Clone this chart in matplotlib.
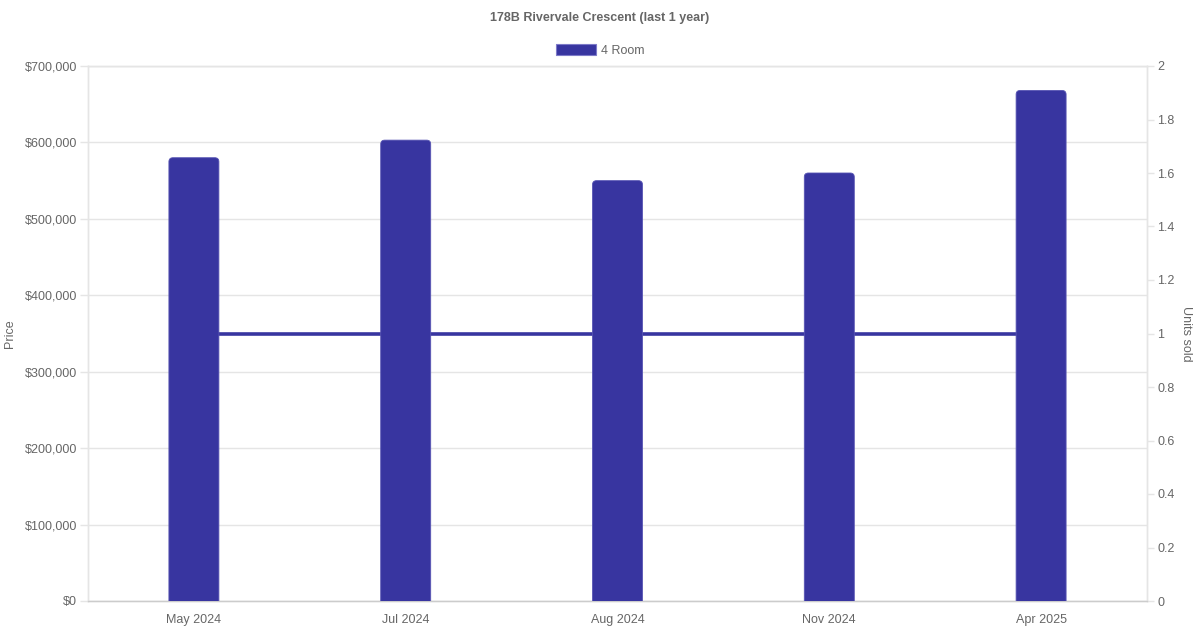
import numpy as np
import matplotlib
matplotlib.use("Agg")
import matplotlib.pyplot as plt
from matplotlib.patches import Patch, FancyBboxPatch

plt.rcParams['font.family'] = ['Liberation Sans', 'DejaVu Sans']

# Data
months = ['May 2024', 'Jul 2024', 'Aug 2024', 'Nov 2024', 'Apr 2025']
prices = [580000, 603000, 550000, 560000, 668000]
units_sold = [1, 1, 1, 1, 1]

bar_color = '#3835A0'
text_grey = '#666666'
grid_grey = '#e5e5e5'

fig = plt.figure(figsize=(12, 6.3), dpi=100)
ax = fig.add_axes([88/1200, 1-601/630, (1147-88)/1200, (601-66)/630])
ax2 = ax.twinx()

x = np.arange(len(months))

# price bars on the left axis (drawn above the line)
ax2.set_zorder(1)
ax.set_zorder(2)
ax.patch.set_visible(False)
ax.set_xlim(-0.5, len(months) - 0.5)
ax.set_ylim(0, 700000)
bars = ax.bar(x, prices, width=0.236, color=bar_color, zorder=3)

# swap bars for rounded-top versions (bottom corners hidden below the axis)
xpp = 5 / 1059.0       # data units per pixel, x
ypp = 700000 / 535.0   # data units per pixel, y
r = 4 * xpp
for b in bars:
    b.set_visible(False)
    bx, bw, bh = b.get_x(), b.get_width(), b.get_height()
    p = FancyBboxPatch((bx, -10 * ypp), bw, bh + 10 * ypp,
                       boxstyle='round,pad=0,rounding_size=%f' % r,
                       mutation_aspect=ypp / xpp,
                       facecolor=bar_color, edgecolor='#5754b3', linewidth=0.6, zorder=3)
    ax.add_patch(p)

# units sold line on the right axis
ax2.plot(x, units_sold, color=bar_color, linewidth=2.6, zorder=2)

ax.set_yticks(np.arange(0, 700001, 100000))
ax.set_yticklabels(['${:,.0f}'.format(v) for v in np.arange(0, 700001, 100000)])
ax.set_xticks(x)
ax.set_xticklabels(months)
for lbl in ax.get_xticklabels():
    lbl.set_va('baseline')

ax2.set_ylim(0, 2)
ax2.set_yticks(np.arange(0, 2.01, 0.2))
ax2.set_yticklabels(['{:g}'.format(round(v, 1)) for v in np.arange(0, 2.01, 0.2)])

ax.grid(axis='y', color=grid_grey, linewidth=1, zorder=0)
ax.set_axisbelow(True)

for a in (ax, ax2):
    for s in a.spines.values():
        s.set_color(grid_grey)
        s.set_linewidth(1)
    a.tick_params(axis='both', colors=text_grey, labelsize=9, labelcolor=text_grey)
ax.spines['bottom'].set_color('#cccccc')
ax.tick_params(axis='y', length=5.8, width=1, color=grid_grey, pad=2)
ax.tick_params(axis='x', length=0, pad=16)
ax2.tick_params(axis='y', length=5, width=1, color=grid_grey, pad=2.2)

ax.set_ylabel('Price', color=text_grey, fontsize=9, labelpad=6)
ax2.set_ylabel('Units sold', color=text_grey, fontsize=9, rotation=-90, labelpad=13)

fig.text(0.5, 1-18.5/630, '178B Rivervale Crescent (last 1 year)', ha='center', va='center',
         fontsize=9, fontweight='bold', color=text_grey)

handle = Patch(facecolor=bar_color, edgecolor='#7d7ac8', linewidth=0.8)
fig.legend([handle], ['4 Room'], loc='center', bbox_to_anchor=(0.5, 1-50.5/630), frameon=False,
           fontsize=9, labelcolor=text_grey, handlelength=3.2, handleheight=1.0, handletextpad=0.4)

fig.savefig('out.png', dpi=100)
